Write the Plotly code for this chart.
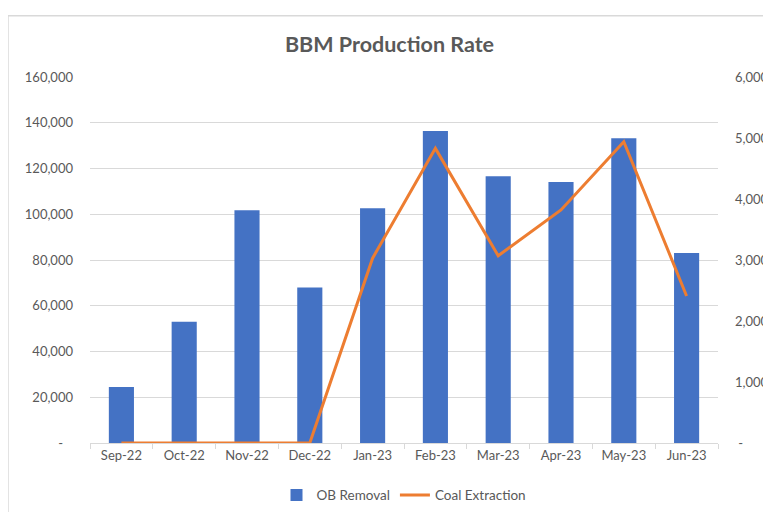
import plotly.graph_objects as go

months = ["Sep-22", "Oct-22", "Nov-22", "Dec-22", "Jan-23", "Feb-23",
          "Mar-23", "Apr-23", "May-23", "Jun-23"]
ob_removal = [24500, 53000, 101800, 68000, 102600, 136400, 116600, 114100, 133200, 83100]
coal_extraction = [0, 0, 0, 0, 3030, 4830, 3070, 3820, 4940, 2410]

left_ticks = [0, 20000, 40000, 60000, 80000, 100000, 120000, 140000, 160000]
left_labels = ["-\u00a0\u00a0\u00a0", "20,000", "40,000", "60,000", "80,000",
               "100,000", "120,000", "140,000", "160,000"]
right_ticks = [0, 1000, 2000, 3000, 4000, 5000, 6000]
right_labels = ["\u00a0-", "1,000", "2,000", "3,000", "4,000", "5,000", "6,000"]

TXT = "#595959"
FONT = "Lato"

fig = go.Figure()
fig.add_trace(go.Bar(
    x=months, y=ob_removal, name="OB Removal",
    marker=dict(color="#4472C4", line=dict(width=0)),
    yaxis="y",
))
fig.add_trace(go.Scatter(
    x=months, y=coal_extraction, name="Coal Extraction", mode="lines",
    line=dict(color="#ED7D31", width=3),
    yaxis="y2",
))

fig.update_layout(
    width=763, height=504,
    margin=dict(l=82, r=53, t=69, b=69, autoexpand=False),
    paper_bgcolor="white", plot_bgcolor="white",
    font=dict(family=FONT, size=13, color=TXT),
    bargap=0.6,
    title=dict(text="<b>BBM Production Rate</b>", x=0.5, xanchor="center",
               y=0.9286, yanchor="middle",
               font=dict(family=FONT, size=21.5, color=TXT)),
    xaxis=dict(
        type="category", tickson="boundaries", ticks="outside", ticklen=5,
        tickcolor="#D9D9D9", showline=True, linecolor="#D9D9D9", linewidth=1,
        showgrid=False, tickfont=dict(size=13, color=TXT), automargin=False,
    ),
    yaxis=dict(
        range=[0, 160000], tickvals=left_ticks, ticktext=left_labels,
        showgrid=True, gridcolor="#D9D9D9", gridwidth=1, zeroline=False,
        showline=False, ticks="", ticklabelstandoff=16, automargin=False,
        tickfont=dict(size=13, color=TXT),
    ),
    yaxis2=dict(
        range=[0, 6000], tickvals=right_ticks, ticktext=right_labels,
        overlaying="y", side="right", showgrid=False, zeroline=False,
        showline=False, ticks="", ticklabelstandoff=16, automargin=False,
        tickfont=dict(size=13, color=TXT),
    ),
    legend=dict(orientation="h", x=0.5, xanchor="center", y=-0.143,
                yanchor="middle", font=dict(size=13.5, color=TXT),
                traceorder="normal"),
    shapes=[dict(type="rect", xref="paper", yref="paper",
                 x0=-0.1306, x1=1.2, y0=-0.3, y1=1.1675,
                 line=dict(color="#D9D9D9", width=1.5),
                 fillcolor="rgba(0,0,0,0)", layer="below")],
)

fig.write_html("out.html")
